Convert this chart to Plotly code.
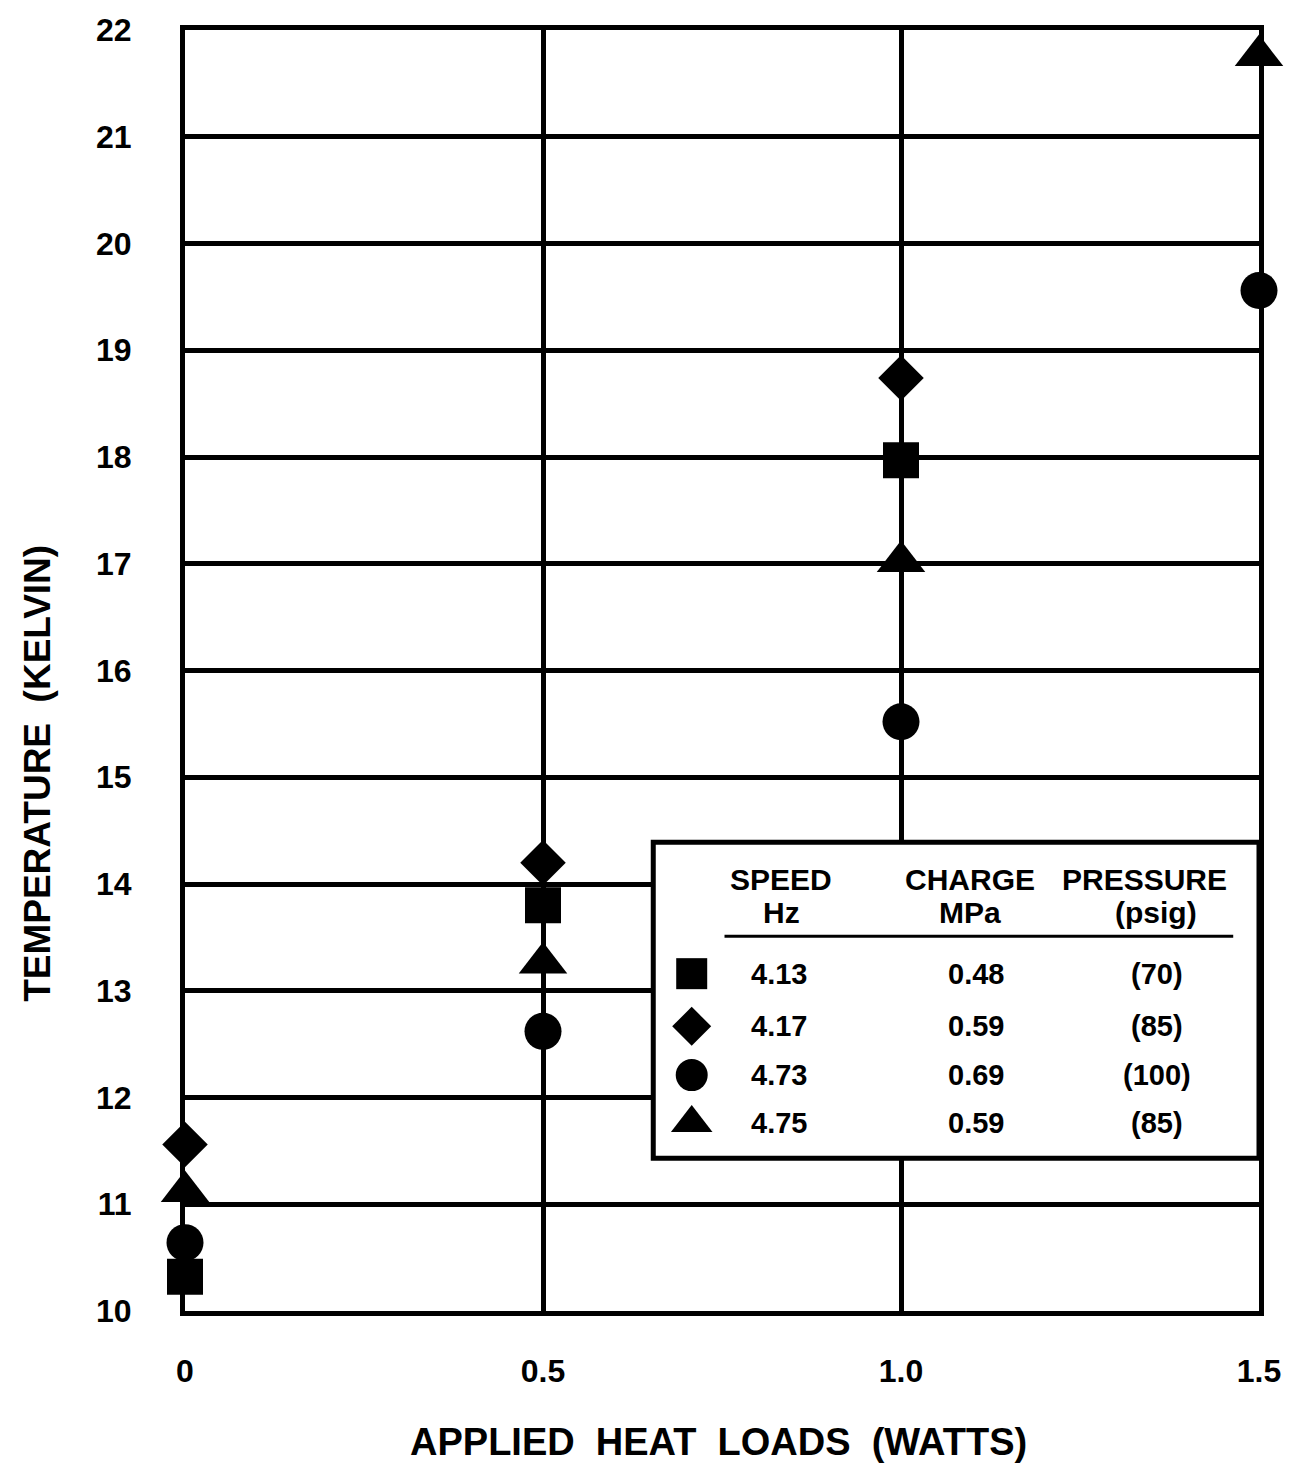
import plotly.graph_objects as go

# ---- data ----
heat_load = [0.0, 0.5, 1.0, 1.5]
series_names = ["4.13 Hz", "4.17 Hz", "4.73 Hz", "4.75 Hz"]
temp_413 = [10.32, 13.80, 17.97, None]
temp_417 = [11.56, 14.20, 18.74, None]
temp_473 = [10.64, 12.62, 15.52, 19.56]
temp_475 = [11.12, 13.26, 17.02, 21.76]
symbols = ["square", "diamond", "circle", "triangle-up"]
marker_sizes = [36, 35, 37, 42]

x_tickvals = [0, 0.5, 1.0, 1.5]
x_ticktext = ["0", "0.5", "1.0", "1.5"]
y_tickvals = list(range(10, 23))
y_ticktext = [str(v) for v in y_tickvals]

legend_speed = ["4.13", "4.17", "4.73", "4.75"]
legend_charge = ["0.48", "0.59", "0.69", "0.59"]
legend_pressure = ["(70)", "(85)", "(100)", "(85)"]

FONT = "Liberation Sans, Arial, Helvetica, sans-serif"
SP = "&nbsp;"

fig = go.Figure()
for name, ys, sym, sz in zip(series_names, [temp_413, temp_417, temp_473, temp_475], symbols, marker_sizes):
    fig.add_trace(go.Scatter(
        x=heat_load, y=ys, mode="markers", name=name,
        marker=dict(symbol=sym, size=sz, color="black", opacity=1, line=dict(width=0)),
        showlegend=False, cliponaxis=False,
    ))

# ---- legend box (layout) ----
box_x0, box_x1 = 0.654, 1.5
box_y0, box_y1 = 11.43, 14.39
fig.add_shape(type="rect", xref="x", yref="y", x0=box_x0, x1=box_x1, y0=box_y0, y1=box_y1,
              fillcolor="white", line=dict(color="black", width=5), layer="between")
fig.add_shape(type="line", xref="x", yref="y", x0=0.7535, x1=1.464, y0=13.51, y1=13.51,
              line=dict(color="black", width=3), layer="between")

row_y = [13.16, 12.667, 12.21, 11.76]
legend_marker_x = 0.7077
legend_marker_sizes = [31, 30, 32, 36]
for sym, yv, sz in zip(symbols, row_y, legend_marker_sizes):
    fig.add_trace(go.Scatter(
        x=[legend_marker_x], y=[yv], mode="markers", showlegend=False, hoverinfo="skip",
        marker=dict(symbol=sym, size=sz, color="black", opacity=1, line=dict(width=0)),
    ))

col_speed, col_charge, col_press = 0.830, 1.1046, 1.357
ann = []
hdr_font = dict(family=FONT, size=30, color="black")
ann += [
    dict(x=0.8326, y=14.04, text="<b>SPEED</b>", font=hdr_font),
    dict(x=0.8326, y=13.73, text="<b>Hz</b>", font=hdr_font),
    dict(x=1.096, y=14.04, text="<b>CHARGE</b>", font=hdr_font),
    dict(x=1.096, y=13.73, text="<b>MPa</b>", font=hdr_font),
    dict(x=1.340, y=14.04, text="<b>PRESSURE</b>", font=hdr_font),
    dict(x=1.356, y=13.73, text="<b>(psig)</b>", font=hdr_font),
]
val_font = dict(family=FONT, size=29, color="black")
for yv, s, c, p in zip(row_y, legend_speed, legend_charge, legend_pressure):
    ann.append(dict(x=col_speed, y=yv, text="<b>" + s + "</b>", font=val_font))
    ann.append(dict(x=col_charge, y=yv, text="<b>" + c + "</b>", font=val_font))
    ann.append(dict(x=col_press, y=yv, text="<b>" + p + "</b>", font=val_font))
for a in ann:
    a.update(xref="x", yref="y", showarrow=False, xanchor="center", yanchor="middle")

# axis titles
ann.append(dict(xref="paper", yref="paper", x=0.497, y=-0.1026, showarrow=False,
                text="<b>APPLIED" + SP * 2 + "HEAT" + SP * 2 + "LOADS" + SP * 2 + "(WATTS)</b>",
                xanchor="center", yanchor="middle",
                font=dict(family=FONT, size=38, color="black")))
ann.append(dict(xref="paper", yref="paper", x=-0.137, y=0.42, showarrow=False, textangle=-90,
                text="<b>TEMPERATURE" + SP * 2 + "(KELVIN)</b>", xanchor="center", yanchor="middle",
                font=dict(family=FONT, size=37, color="black")))

axis_common = dict(showgrid=True, gridcolor="black", gridwidth=5, zeroline=False,
                   showline=True, linecolor="black", linewidth=5, mirror=True,
                   ticks="", tickfont=dict(family=FONT, size=32, color="black"))

fig.update_layout(
    width=1293, height=1463,
    margin=dict(l=185, r=30, t=24, b=152),
    paper_bgcolor="white", plot_bgcolor="white",
    annotations=ann,
    xaxis=dict(range=[0, 1.5], tickvals=x_tickvals,
               ticktext=["<b>" + t + "</b>" for t in x_ticktext],
               ticklabelstandoff=28, **axis_common),
    yaxis=dict(range=[10, 22], tickvals=y_tickvals,
               ticktext=["<b>" + t + "</b>" for t in y_ticktext],
               ticklabelstandoff=42, **axis_common),
)

fig.write_html("out.html")
